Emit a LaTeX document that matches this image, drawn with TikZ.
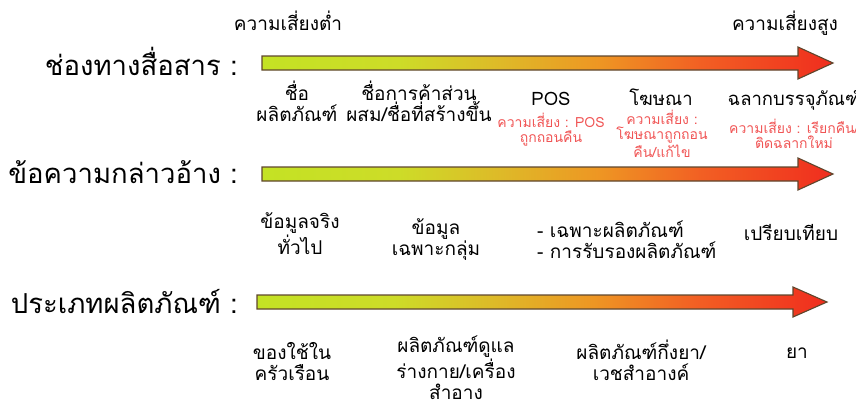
\documentclass[tikz,border=0pt]{standalone}
\usepackage{fontspec}
\setmainfont[Script=Thai]{Loma}
\definecolor{cA}{RGB}{196,226,36}
\definecolor{cB}{RGB}{205,220,40}
\definecolor{cC}{RGB}{222,185,40}
\definecolor{cD}{RGB}{238,150,35}
\definecolor{cE}{RGB}{242,95,35}
\definecolor{cF}{RGB}{240,45,30}
\definecolor{edge}{RGB}{95,70,45}
\definecolor{risk}{RGB}{240,85,85}
\pgfdeclarehorizontalshading{riskshade}{100bp}{color(0bp)=(cA); color(25bp)=(cA); color(37bp)=(cB); color(46bp)=(cC); color(54.5bp)=(cD); color(63.5bp)=(cE); color(75bp)=(cF); color(100bp)=(cF)}
\tikzset{
  arrowbody/.style={draw=edge, line width=1.1pt, line join=miter, shading=riskshade, shading angle=0},
  title/.style={anchor=base east, inner sep=0pt, font=\fontsize{27.5}{30}\selectfont},
  lbl/.style={anchor=base, inner sep=0pt, align=center, font=\fontsize{19}{21}\selectfont},
  big/.style={anchor=base, inner sep=0pt, align=center, font=\fontsize{18.5}{21}\selectfont},
  red/.style={anchor=base, inner sep=0pt, align=center, text=risk, font=\fontsize{14}{15}\selectfont},
}
\begin{document}
\begin{tikzpicture}[x=1pt,y=-1pt]
\useasboundingbox (0,0) rectangle (856,407);
% arrows
\path[arrowbody] (262,56) -- (798,56) -- (798,47) -- (833,63) -- (798,79) -- (798,70) -- (262,70) -- cycle;
\path[arrowbody] (262,167) -- (798,167) -- (798,158) -- (833,174) -- (798,190) -- (798,181) -- (262,181) -- cycle;
\path[arrowbody] (257,295) -- (793,295) -- (793,287) -- (827,302) -- (793,317) -- (793,309) -- (257,309) -- cycle;
% scale ends
\node[lbl] (low) at (288,30) {ความเสี่ยงต่ำ};
\node[lbl] (high) at (785,30) {ความเสี่ยงสูง};
% titles
\node[title] (t1) at (238,75) {ช่องทางสื่อสาร :};
\node[title] (t2) at (238,183) {ข้อความกล่าวอ้าง :};
\node[title] (t3) at (238,313) {ประเภทผลิตภัณฑ์ :};
% row 1 (base = last line)
\node[lbl] (a1) at (297,121) {ชื่อ\\ผลิตภัณฑ์};
\node[lbl] (a2) at (419,121) {ชื่อการค้าส่วน\\ผสม/ชื่อที่สร้างขึ้น};
\node[big] (a3) at (551,105) {POS};
\node[red] (r3) at (551,142) {ความเสี่ยง : POS\\ถูกถอนคืน};
\node[big] (a4) at (661,105) {โฆษณา};
\node[red] (r4) at (662,157) {ความเสี่ยง :\\โฆษณาถูกถอน\\คืน/แก้ไข};
\node[big] (a5) at (794,105) {ฉลากบรรจุภัณฑ์};
\node[red] (r5) at (794,148) {ความเสี่ยง : เรียกคืน/\\ติดฉลากใหม่};
% row 2
\node[lbl] (b1) at (300,254) {ข้อมูลจริง\\ทั่วไป};
\node[lbl] (b2) at (436,255) {ข้อมูล\\เฉพาะกลุ่ม};
\node[lbl, anchor=base west, align=left] (b3) at (537,258) {- เฉพาะผลิตภัณฑ์\\- การรับรองผลิตภัณฑ์};
\node[lbl] (b4) at (791,240) {เปรียบเทียบ};
% row 3
\node[lbl] (c1) at (292,380) {ของใช้ใน\\ครัวเรือน};
\node[lbl] (c2) at (456,399) {ผลิตภัณฑ์ดูแล\\ร่างกาย/เครื่อง\\สำอาง};
\node[lbl] (c3) at (641,380) {ผลิตภัณฑ์กึ่งยา/\\เวชสำอางค์};
\node[lbl] (c4) at (797,358) {ยา};
\end{tikzpicture}
\end{document}
